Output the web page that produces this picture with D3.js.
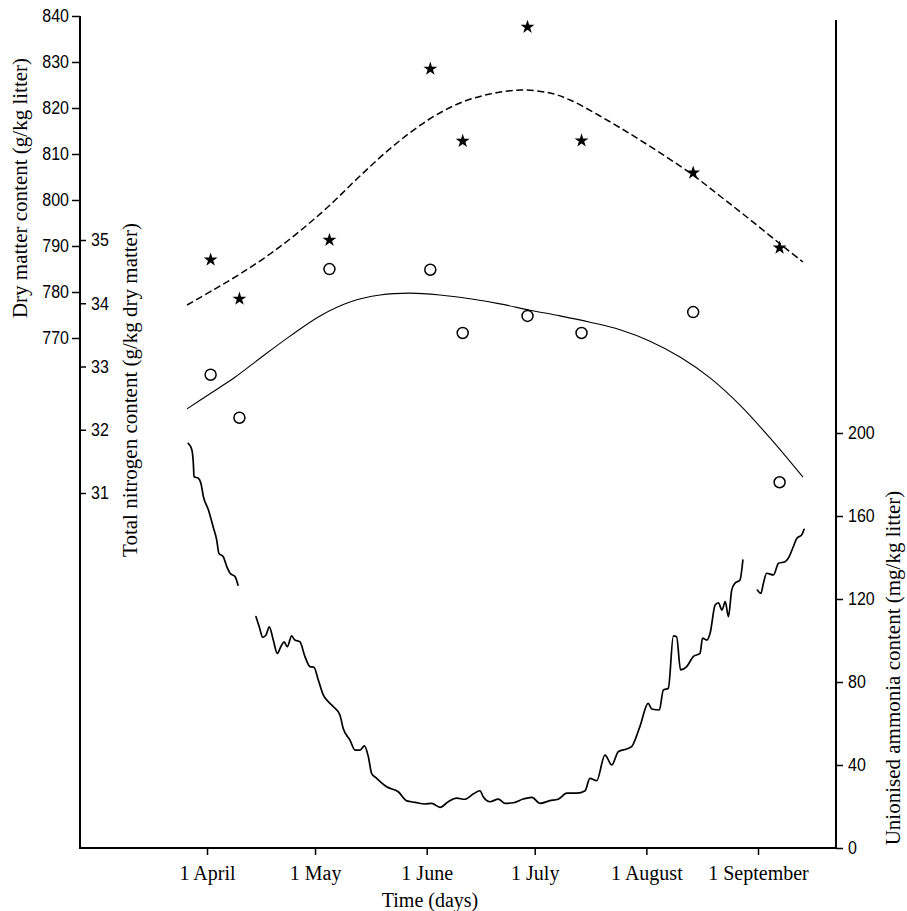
<!DOCTYPE html>
<html>
<head>
<meta charset="utf-8">
<script src="https://cdn.jsdelivr.net/npm/d3@7"></script>
<style>
  html, body { margin: 0; padding: 0; background: #fff; }
  svg { display: block; }
  .num { font-family: "Liberation Sans", Arial, sans-serif; font-size: 18px; fill: #000; }
  .ser { font-family: "Liberation Serif", "Times New Roman", serif; font-size: 21px; fill: #000; }
  .ser20 { font-family: "Liberation Serif", "Times New Roman", serif; font-size: 20px; fill: #000; }
</style>
</head>
<body>
<svg id="chart" width="907" height="911"></svg>
<script>
// ---------------- DATA ----------------
// sampling dates as day of year (1 April = 91)
const sampleDays = [92, 100, 125, 153, 162, 180, 195, 226, 250];
const dryMatter = [787.0, 778.5, 791.3, 828.5, 812.8, 837.6, 812.9, 805.9, 789.6];
const nitrogen = [32.87, 32.19, 34.54, 34.53, 33.53, 33.80, 33.53, 33.86, 31.17];

// fitted curves
const dmFitDays = [85.45, 92.67, 100.16, 108.49, 116.82, 125.15, 133.48, 142.37, 152.37, 161.25, 169.58,
  178.19, 186.24, 191.80, 200.13, 211.24, 225.12, 233.45, 241.22, 249.83, 256.49];
const dmFitValues = [777.17, 780.43, 783.91, 788.26, 793.26, 798.91, 805.22, 811.52, 817.39, 821.09, 823.04,
  823.91, 823.26, 821.74, 818.26, 813.04, 805.87, 800.87, 796.09, 790.65, 786.52];
const nFitDays = [85.45, 91.83, 98.77, 105.72, 114.05, 122.38, 130.71, 139.04, 147.37, 155.70, 164.03,
  172.36, 180.69, 189.02, 197.35, 205.68, 214.01, 222.34, 230.67, 239.00, 247.33, 256.49];
const nFitValues = [32.33, 32.57, 32.83, 33.13, 33.48, 33.80, 34.02, 34.13, 34.16, 34.13, 34.07,
  33.99, 33.89, 33.80, 33.70, 33.58, 33.40, 33.15, 32.82, 32.39, 31.87, 31.25];

// unionised ammonia (continuous record, null = gap)
const ammoniaDays = [
  85.8, 86.8, 87.2, 87.4, 88.6, 89.3, 90.0, 91.4, 92.7, 93.7, 94.3, 95.5, 96.5, 97.4, 98.8, 99.6,
  102.0,
  104.6, 105.5, 106.5, 107.4, 108.3, 109.4, 110.5, 111.5, 112.4, 113.3, 114.5, 115.4, 116.8, 118.2, 119.6, 120.7,
  121.9, 123.3, 124.7, 126.1, 127.9, 128.8, 130.7, 132.1, 133.5, 134.7, 135.8, 136.7, 138.1, 140.9, 144.1, 146.5,
  148.8, 151.5, 153.4, 155.7, 158.0, 160.3, 162.6, 164.9, 166.8, 167.7, 169.6, 171.9, 173.7, 176.1, 178.8, 181.2,
  183.5, 186.2, 188.5, 190.9, 193.7, 196.0, 197.3, 199.2, 201.5, 203.4, 205.2, 207.5, 208.9, 211.2, 213.5, 214.5,
  216.6, 217.7, 219.1, 220.5, 221.4, 222.5, 224.2, 226.0, 227.9, 228.6, 229.8, 230.7, 232.1, 233.0, 234.0, 234.9,
  235.8, 236.7, 237.6, 239.0, 239.8,
  242.0,
  243.8, 244.8, 245.5, 246.4, 248.3, 249.7, 251.5, 252.4, 253.8, 254.8, 256.1, 256.8
];
const ammoniaValues = [
  195.0, 191.8, 185.4, 178.9, 178.2, 175.8, 169.3, 162.9, 154.8, 148.4, 142.0, 140.4, 135.6, 132.4, 130.7, 126.7,
  null,
  111.5, 106.6, 101.5, 102.7, 106.6, 100.2, 93.8, 97.0, 99.3, 97.0, 102.2, 100.2, 99.4, 92.2, 87.4, 87.1,
  81.0, 73.7, 70.5, 68.1, 64.1, 57.7, 52.0, 47.2, 47.2, 49.2, 44.0, 36.0, 33.6, 29.5, 27.1, 22.7,
  22.0, 21.2, 21.5, 19.6, 22.3, 24.0, 23.5, 26.0, 27.6, 24.7, 22.3, 23.6, 21.5, 21.8, 23.6, 24.4,
  21.5, 22.8, 23.5, 26.4, 26.4, 27.6, 33.6, 32.4, 44.8, 40.0, 46.4, 47.7, 48.8, 58.5, 69.7, 67.0,
  66.5, 76.1, 77.0, 102.2, 101.8, 85.8, 87.4, 92.2, 93.8, 101.1, 100.2, 103.5, 117.1, 118.2, 114.7, 118.7,
  111.5, 124.3, 127.6, 129.2, 138.8,
  null,
  124.3, 122.7, 127.6, 132.4, 131.6, 137.2, 138.0, 139.6, 145.2, 149.3, 150.8, 153.6
];

// axis ticks
const monthTickDays = [91, 121, 152, 182, 213, 244];
const monthTickLabels = ["1 April", "1 May", "1 June", "1 July", "1 August", "1 September"];
const dmTicks = [770, 780, 790, 800, 810, 820, 830, 840];
const nTicks = [31, 32, 33, 34, 35];
const ammTicks = [0, 40, 80, 120, 160, 200];

// ---------------- SCALES ----------------
const svg = d3.select("#chart");
const x = d3.scaleLinear().domain([55.73, 265.66]).range([80, 836]);
const yDM = d3.scaleLinear().domain([770, 840]).range([338, 16]);
const yN = d3.scaleLinear().domain([31, 35]).range([493, 240]);
const yA = d3.scaleLinear().domain([0, 200]).range([848, 433]);

const [xL, xR] = x.range();
const yBottom = yA(0);

// ---------------- FRAME LINES ----------------
svg.append("line").attr("x1", xL).attr("x2", xL).attr("y1", yDM(840)).attr("y2", yBottom)
  .attr("stroke", "#000").attr("stroke-width", 2);
svg.append("line").attr("x1", xR).attr("x2", xR).attr("y1", 20).attr("y2", yBottom)
  .attr("stroke", "#000").attr("stroke-width", 2);
svg.append("line").attr("x1", xL - 1).attr("x2", xR + 1).attr("y1", yBottom).attr("y2", yBottom)
  .attr("stroke", "#000").attr("stroke-width", 2);

function styleAxis(g, cls) {
  g.select(".domain").remove();
  g.selectAll(".tick line").attr("stroke", "#000").attr("stroke-width", 1.5);
  g.selectAll(".tick text").attr("class", cls).attr("font-family", null).attr("font-size", null).attr("fill", null);
}
function narrow(g) {
  g.selectAll(".tick text").each(function () {
    const t = d3.select(this);
    t.attr("textLength", t.text().length * 8.9).attr("lengthAdjust", "spacingAndGlyphs");
  });
}

// Dry matter axis (left, outward ticks)
svg.append("g").attr("transform", `translate(${xL},0)`)
  .call(d3.axisLeft(yDM).tickValues(dmTicks).tickSize(8).tickPadding(3).tickFormat(d3.format("d")))
  .call(g => styleAxis(g, "num")).call(narrow);

// Nitrogen axis (ticks to the right of the same line)
svg.append("g").attr("transform", `translate(${xL},0)`)
  .call(d3.axisRight(yN).tickValues(nTicks).tickSize(6).tickPadding(5).tickFormat(d3.format("d")))
  .call(g => styleAxis(g, "num")).call(narrow);

// Ammonia axis (right)
svg.append("g").attr("transform", `translate(${xR},0)`)
  .call(d3.axisRight(yA).tickValues(ammTicks).tickSize(7).tickPadding(5).tickFormat(d3.format("d")))
  .call(g => styleAxis(g, "num")).call(narrow);

// Time axis (bottom)
svg.append("g").attr("transform", `translate(0,${yBottom})`)
  .call(d3.axisBottom(x).tickValues(monthTickDays).tickSize(7).tickPadding(11)
    .tickFormat((d, i) => monthTickLabels[i]))
  .call(g => styleAxis(g, "ser20"));

// ---------------- AXIS TITLES ----------------
svg.append("text").attr("class", "ser")
  .attr("transform", "translate(27,188) rotate(-90)").attr("text-anchor", "middle")
  .text("Dry matter content (g/kg litter)");
svg.append("text").attr("class", "ser")
  .attr("transform", "translate(137,390) rotate(-90)").attr("text-anchor", "middle")
  .text("Total nitrogen content (g/kg dry matter)");
svg.append("text").attr("class", "ser")
  .attr("transform", "translate(900,668) rotate(-90)").attr("text-anchor", "middle")
  .text("Unionised ammonia content (mg/kg litter)");
svg.append("text").attr("class", "ser20")
  .attr("x", 430).attr("y", 907).attr("text-anchor", "middle")
  .text("Time (days)");

// ---------------- LINES ----------------
const dmFit = dmFitDays.map((d, i) => [d, dmFitValues[i]]);
const nFit = nFitDays.map((d, i) => [d, nFitValues[i]]);
const amm = ammoniaDays.map((d, i) => [d, ammoniaValues[i]]);

svg.append("path").datum(dmFit)
  .attr("d", d3.line().x(d => x(d[0])).y(d => yDM(d[1])).curve(d3.curveCatmullRom))
  .attr("fill", "none").attr("stroke", "#000").attr("stroke-width", 1.5)
  .attr("stroke-dasharray", "7,3.5");

svg.append("path").datum(nFit)
  .attr("d", d3.line().x(d => x(d[0])).y(d => yN(d[1])).curve(d3.curveCatmullRom))
  .attr("fill", "none").attr("stroke", "#000").attr("stroke-width", 1.1);

svg.append("path").datum(amm)
  .attr("d", d3.line().defined(d => d[1] !== null).x(d => x(d[0])).y(d => yA(d[1])).curve(d3.curveMonotoneX))
  .attr("fill", "none").attr("stroke", "#000").attr("stroke-width", 1.7)
  .attr("stroke-linejoin", "round").attr("stroke-linecap", "round");

// ---------------- MARKERS ----------------
svg.append("g").selectAll("path").data(sampleDays).join("path")
  .attr("transform", (d, i) => `translate(${x(d)},${yDM(dryMatter[i])})`)
  .attr("d", d3.symbol().type(d3.symbolStar).size(60))
  .attr("fill", "#000");

svg.append("g").selectAll("circle").data(sampleDays).join("circle")
  .attr("cx", d => x(d)).attr("cy", (d, i) => yN(nitrogen[i]))
  .attr("r", 5.5).attr("fill", "#fff").attr("stroke", "#000").attr("stroke-width", 1.5);
</script>
</body>
</html>
